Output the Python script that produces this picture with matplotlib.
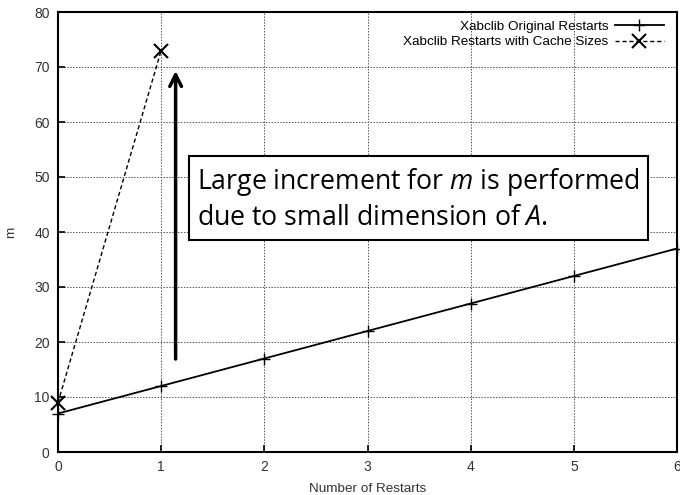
import matplotlib
matplotlib.use("Agg")
import matplotlib.pyplot as plt
from matplotlib.patches import FancyArrowPatch

restarts_orig = [0, 1, 2, 3, 4, 5, 6]
m_orig = [7, 12, 17, 22, 27, 32, 37]
restarts_cache = [0, 1]
m_cache = [9, 73]
xticks = [0, 1, 2, 3, 4, 5, 6]
yticks = [0, 10, 20, 30, 40, 50, 60, 70, 80]
label_orig = "Xabclib Original Restarts"
label_cache = "Xabclib Restarts with Cache Sizes"
note_line1 = "Large increment for $m$ is performed"
note_line2 = "due to small dimension of $A$."

plt.rcParams['font.family'] = ['Liberation Sans', 'DejaVu Sans']
plt.rcParams['mathtext.fontset'] = 'custom'
plt.rcParams['mathtext.it'] = 'Open Sans:italic'
plt.rcParams['mathtext.rm'] = 'Open Sans'
fig = plt.figure(figsize=(6.8, 4.95), dpi=100)
ax = fig.add_axes([58/680, 1-452/495, (677-58)/680, (452-12)/495])

ax.plot(restarts_orig, m_orig, color='black', lw=1.3, marker='+', ms=9, mew=1.0,
        label=label_orig, clip_on=False, zorder=3)
ax.plot(restarts_cache, m_cache, color='black', lw=1.0, ls=(0, (3, 2)), marker='x',
        ms=10, mew=1.5, label=label_cache, clip_on=False, zorder=3)

ax.set_xlim(0, 6)
ax.set_ylim(0, 80)
ax.set_xticks(xticks)
ax.set_yticks(yticks)
ax.tick_params(direction='in', length=5, width=1.2, labelsize=10, colors='black',
               labelcolor='#333333', pad=6)
ax.tick_params(top=False, right=False)
ax.grid(True, color='#555555', ls=(0, (1.5, 1.5)), lw=0.7)
for s in ax.spines.values():
    s.set_linewidth(1.5)
ax.set_xlabel("Number of Restarts", fontsize=9.7, color='#333333', labelpad=6)
ax.set_ylabel("m", fontsize=9.7, color='#333333', labelpad=12)

leg = ax.legend(loc='upper right', bbox_to_anchor=(1.0, 1.012), frameon=False,
                markerfirst=False, fontsize=9.7,
                handlelength=3.6, borderaxespad=0.8, labelspacing=0.25,
                handletextpad=0.5, borderpad=0.2)

# annotation arrow
arr = FancyArrowPatch((1.14, 16.4), (1.14, 69.8), arrowstyle='->,head_length=0.6,head_width=0.3',
                      mutation_scale=14, lw=2.5, color='black', zorder=4)
ax.add_patch(arr)

# annotation box
ax.text(1.35, 46.0, note_line1 + "\n" + note_line2, fontsize=19.2, family='Open Sans',
        va='center', ha='left', linespacing=1.3, zorder=5,
        bbox=dict(boxstyle='square,pad=0.3', fc='white', ec='black', lw=1.5))

fig.savefig("out.png", dpi=100)
